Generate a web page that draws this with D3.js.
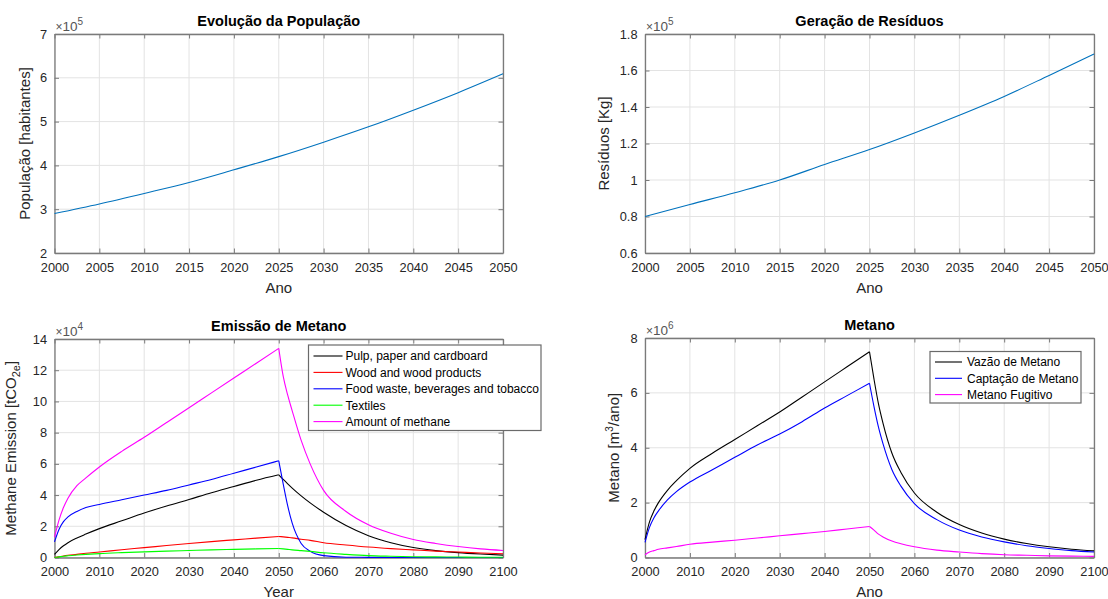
<!DOCTYPE html>
<html><head><meta charset="utf-8">
<script src="https://cdn.jsdelivr.net/npm/d3@7"></script>
<style>
html,body{margin:0;padding:0;background:#fff;}
svg{display:block;font-family:"Liberation Sans",Arial,Helvetica,sans-serif;}
</style></head>
<body>
<svg id="c" width="1108" height="599"></svg>
<script>
// ---------- DATA ----------
const popYears = [2000,2005,2010,2015,2020,2025,2030,2035,2040,2045,2050];
const population = [2.90,3.12,3.36,3.61,3.90,4.20,4.53,4.88,5.26,5.66,6.09]; // x1e5
const residuos   = [0.80,0.866,0.93,1.00,1.085,1.167,1.258,1.355,1.458,1.573,1.69]; // x1e5

const emYears = [2000,2001,2002,2003,2005,2007,2010,2015,2020,2025,2030,2035,2040,2045,2050,
                 2051,2052,2053,2055,2057,2060,2065,2070,2075,2080,2085,2090,2095,2100];
// x1e4 tCO2e
const pulp    = [0.2,0.5,0.75,0.95,1.25,1.5,1.85,2.35,2.85,3.3,3.72,4.15,4.55,4.95,5.3,
                 5.0,4.72,4.45,3.95,3.5,2.9,2.05,1.4,0.95,0.64,0.44,0.31,0.22,0.15];
const wood    = [0.0,0.05,0.1,0.14,0.2,0.27,0.35,0.5,0.63,0.77,0.9,1.02,1.13,1.24,1.35,
                 1.32,1.29,1.26,1.17,1.1,0.95,0.8,0.67,0.57,0.49,0.41,0.35,0.29,0.24];
const food    = [1.0,1.8,2.3,2.6,2.95,3.2,3.4,3.7,4.0,4.3,4.65,5.0,5.4,5.8,6.2,
                 4.7,3.3,2.2,0.9,0.4,0.12,0.02,0.01,0.0,0.0,0.0,0.0,0.0,0.0];
const textiles= [0.0,0.04,0.08,0.11,0.16,0.2,0.25,0.31,0.36,0.41,0.45,0.49,0.52,0.55,0.58,
                 0.55,0.52,0.49,0.44,0.39,0.3,0.2,0.12,0.08,0.05,0.04,0.03,0.02,0.02];
const amount  = [1.3,2.4,3.2,3.8,4.6,5.1,5.8,6.8,7.7,8.65,9.6,10.55,11.5,12.45,13.4,
                 11.6,10.4,9.4,7.5,6.0,4.3,2.95,2.1,1.55,1.15,0.9,0.7,0.55,0.45];
// x1e6 m3/ano
const vazao     = [0.65,1.3,1.7,2.0,2.45,2.8,3.25,3.8,4.3,4.8,5.3,5.85,6.4,6.95,7.5,
                   6.5,5.6,4.9,3.8,3.1,2.35,1.65,1.2,0.89,0.67,0.51,0.39,0.3,0.24];
const captacao  = [0.55,1.1,1.45,1.7,2.1,2.4,2.75,3.2,3.65,4.1,4.5,4.95,5.45,5.9,6.35,
                   5.5,4.75,4.15,3.2,2.6,1.96,1.38,1.0,0.75,0.57,0.43,0.33,0.25,0.2];
const fugitivo  = [0.1,0.2,0.25,0.3,0.35,0.4,0.48,0.56,0.63,0.71,0.79,0.87,0.95,1.04,1.13,
                   1.0,0.85,0.75,0.6,0.5,0.39,0.27,0.2,0.14,0.1,0.08,0.06,0.05,0.04];

const ticksX5 = [2000,2005,2010,2015,2020,2025,2030,2035,2040,2045,2050];
const ticksX10 = [2000,2010,2020,2030,2040,2050,2060,2070,2080,2090,2100];
const ticksPop = [2,3,4,5,6,7];
const ticksRes = [0.6,0.8,1,1.2,1.4,1.6,1.8];
const ticksEm = [0,2,4,6,8,10,12,14];
const ticksMet = [0,2,4,6,8];

const legendEm = ["Pulp, paper and cardboard","Wood and wood products","Food waste, beverages and tobacco","Textiles","Amount of methane"];
const legendMet = ["Vazão de Metano","Captação de Metano","Metano Fugitivo"];

// ---------- DRAW ----------
const svg = d3.select("#c");
const TXT = "#262626";
const AX = "#7a7a7a";
const GRID = "#e3e3e3";

function panel(o){
  const g = svg.append("g");
  const x = d3.scaleLinear().domain(o.xd).range([o.l,o.r]);
  const y = d3.scaleLinear().domain(o.yd).range([o.b,o.t]);
  g.selectAll(".gx").data(o.xt).enter().append("line")
    .attr("x1",d=>x(d)).attr("x2",d=>x(d)).attr("y1",o.t).attr("y2",o.b)
    .attr("stroke",GRID).attr("stroke-width",1);
  g.selectAll(".gy").data(o.yt).enter().append("line")
    .attr("y1",d=>y(d)).attr("y2",d=>y(d)).attr("x1",o.l).attr("x2",o.r)
    .attr("stroke",GRID).attr("stroke-width",1);
  const tl = 4.5;
  const ax = (gen, tr, lab) => {
    const a = g.append("g").attr("transform",tr).call(gen);
    a.select(".domain").attr("stroke",AX).attr("stroke-width",1.3);
    a.selectAll(".tick line").attr("stroke",AX).attr("stroke-width",1);
    a.selectAll(".tick text").attr("fill",TXT).attr("font-size",12.8)
      .attr("font-family",'"Liberation Sans",Arial,sans-serif');
    if(!lab) a.selectAll(".tick text").remove();
    return a;
  };
  ax(d3.axisBottom(x).tickValues(o.xt).tickSize(-tl).tickSizeOuter(0).tickPadding(9.5).tickFormat(d3.format("d")),
     `translate(0,${o.b})`, true);
  ax(d3.axisTop(x).tickValues(o.xt).tickSize(-tl).tickSizeOuter(0),
     `translate(0,${o.t})`, false);
  ax(d3.axisLeft(y).tickValues(o.yt).tickSize(-tl).tickSizeOuter(0).tickPadding(7.5).tickFormat(d=>String(+d.toFixed(2))),
     `translate(${o.l},0)`, true);
  ax(d3.axisRight(y).tickValues(o.yt).tickSize(-tl).tickSizeOuter(0),
     `translate(${o.r},0)`, false);
  g.append("text").attr("x",(o.l+o.r)/2).attr("y",o.t-8).attr("text-anchor","middle")
    .attr("font-weight","bold").attr("font-size",14.5).attr("fill","#000").text(o.title);
  const ex = g.append("text").attr("x",o.l+1).attr("y",o.t-3).attr("font-size",13.5).attr("fill","#555");
  ex.append("tspan").attr("font-size",12).text("×");
  ex.append("tspan").text("10");
  ex.append("tspan").attr("font-size",10).attr("dy",-6).text(o.exp);
  g.append("text").attr("x",(o.l+o.r)/2).attr("y",o.b+39.5).attr("text-anchor","middle")
    .attr("font-size",15).attr("fill",TXT).text(o.xlab);
  const yl = g.append("text").attr("transform",`translate(${o.yx},${(o.t+o.b)/2}) rotate(-90)`)
    .attr("text-anchor","middle").attr("font-size",15).attr("fill",TXT);
  o.ylab(yl);
  const lg = g.append("g");
  o.series.forEach(s=>{
    const pts = o.xs.map((xv,i)=>[xv,s.v[i]]);
    const segs = o.split ? [pts.filter(p=>p[0]<=o.split), pts.filter(p=>p[0]>=o.split)] : [pts];
    const line = d3.line().x(p=>x(p[0])).y(p=>y(p[1])).curve(d3.curveMonotoneX);
    segs.forEach(seg=>{
      lg.append("path").attr("d",line(seg)).attr("fill","none")
        .attr("stroke",s.c).attr("stroke-width",1.1).attr("stroke-linejoin","round");
    });
  });
  if(o.legend){
    const L = o.legend;
    g.append("rect").attr("x",L.x).attr("y",L.y).attr("width",L.w).attr("height",L.h)
      .attr("fill","#fff").attr("stroke","#6a6a6a").attr("stroke-width",1.2);
    o.series.forEach((s,i)=>{
      const yy = L.y + L.r0 + i*L.dy;
      g.append("line").attr("x1",L.x+L.s0).attr("x2",L.x+L.s1).attr("y1",yy).attr("y2",yy)
        .attr("stroke",s.c).attr("stroke-width",1.1);
      g.append("text").attr("x",L.x+L.tx).attr("y",yy+4.3).attr("font-size",12)
        .attr("fill","#000").text(L.names[i]);
    });
  }
}

panel({l:54.5,r:503,t:34,b:253, xd:[2000,2050], yd:[2,7], xt:ticksX5, yt:ticksPop,
  title:"Evolução da População", exp:"5", xlab:"Ano", yx:30,
  ylab:t=>t.text("População [habitantes]"),
  xs:popYears, series:[{v:population,c:"#0072BD"}]});

panel({l:645,r:1094,t:34,b:253, xd:[2000,2050], yd:[0.6,1.8], xt:ticksX5, yt:ticksRes,
  title:"Geração de Resíduos", exp:"5", xlab:"Ano", yx:609,
  ylab:t=>t.text("Resíduos [Kg]"),
  xs:popYears, series:[{v:residuos,c:"#0072BD"}]});

panel({l:54.5,r:503,t:339,b:557.5, xd:[2000,2100], yd:[0,14], xt:ticksX10, yt:ticksEm,
  title:"Emissão de Metano", exp:"4", xlab:"Year", yx:16,
  ylab:t=>{t.append("tspan").text("Methane Emission [tCO");
           t.append("tspan").attr("font-size",11).attr("dy",4).text("2e");
           t.append("tspan").attr("dy",-4).text("]");},
  xs:emYears, split:2050,
  series:[{v:pulp,c:"#000"},{v:wood,c:"#ff0000"},{v:food,c:"#0000ff"},{v:textiles,c:"#00ff00"},{v:amount,c:"#ff00ff"}],
  legend:{x:308.5,y:345,w:232.5,h:85.5,r0:11,dy:16.4,s0:5,s1:34,tx:37,names:legendEm}});

panel({l:645,r:1094,t:338,b:557.5, xd:[2000,2100], yd:[0,8], xt:ticksX10, yt:ticksMet,
  title:"Metano", exp:"6", xlab:"Ano", yx:619,
  ylab:t=>{t.append("tspan").text("Metano [m");
           t.append("tspan").attr("font-size",10).attr("dy",-6).text("3");
           t.append("tspan").attr("dy",6).text("/ano]");},
  xs:emYears, split:2050,
  series:[{v:vazao,c:"#000"},{v:captacao,c:"#0000ff"},{v:fugitivo,c:"#ff00ff"}],
  legend:{x:930,y:351.5,w:151,h:51.5,r0:10.5,dy:16.3,s0:5,s1:32,tx:37,names:legendMet}});
</script>
</body></html>
